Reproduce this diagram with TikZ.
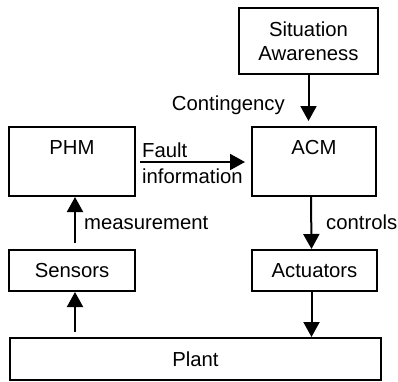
\documentclass[tikz,border=0pt]{standalone}
\usepackage{fontspec}
\setmainfont{Liberation Sans}
\usetikzlibrary{arrows.meta}
\begin{document}
\begin{tikzpicture}[x=1pt,y=-1pt,
  box/.style={draw, line width=2pt, inner sep=0pt, align=center,
    font=\fontsize{20.3}{23.5}\selectfont},
  lbl/.style={inner sep=0pt, font=\fontsize{20.3}{24}\selectfont},
  arr/.style={line width=2pt, -{Triangle[length=15pt,width=16pt]}}]
\useasboundingbox (0,0) rectangle (398,381);

% blocks
\node[box, minimum width=139pt, minimum height=66pt] (sa) at (308.5,41) {Situation\\Awareness};
\node[box, minimum width=126pt, minimum height=69pt] (phm) at (72,161.5) {};
\node[lbl, anchor=base] (phmtxt) at (72,154) {PHM};
\node[box, minimum width=124pt, minimum height=69pt] (acm) at (314,161.5) {};
\node[lbl, anchor=base] (acmtxt) at (314,154) {ACM};
\node[box, minimum width=126pt, minimum height=41pt] (sens) at (72,270.5) {Sensors};
\node[box, minimum width=125pt, minimum height=41pt] (act) at (314.5,270.5) {Actuators};
\node[box, minimum width=371pt, minimum height=42pt] (plant) at (195.5,359) {Plant};

% connectors
\draw[arr, shorten >=5pt] (sa.south) -- (sa.south |- acm.north);
\draw[arr, shorten <=4pt, shorten >=6pt] (phm.east |- 0,162) -- (acm.west |- 0,162);
\draw[arr] ([xshift=-3pt]acm.south) -- ([xshift=-3pt]act.north);
\draw[arr] ([xshift=-3pt]act.south) -- ([xshift=-3pt]act.south |- plant.north);
\draw[arr, shorten <=6pt] ([xshift=3pt]sens.north) -- ([xshift=3pt]sens.north |- phm.south);
\draw[arr, shorten <=5pt] ([xshift=3pt]sens.south |- plant.north) -- ([xshift=3pt]sens.south);

% signal labels
\node[lbl, anchor=base east] (cont) at (285,110) {Contingency};
\node[lbl, anchor=base west] (fault) at (142,157) {Fault};
\node[lbl, anchor=base west] (finfo) at (142,183) {information};
\node[lbl, anchor=base west] (meas) at (84,229) {measurement};
\node[lbl, anchor=base west] (ctrl) at (326,229) {controls};
\end{tikzpicture}
\end{document}
